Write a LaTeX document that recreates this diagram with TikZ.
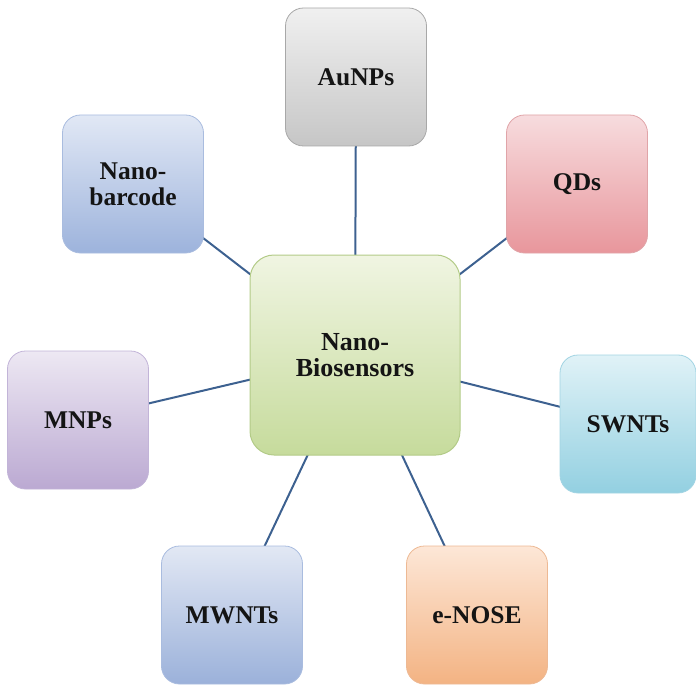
\documentclass[tikz,border=0pt]{standalone}
\usepackage{fontspec}
\setmainfont{Liberation Serif}
\usetikzlibrary{backgrounds}

% palette: top / bottom shades and rim of each box
\definecolor{goldT}{HTML}{F0F0F0}\definecolor{goldB}{HTML}{C6C6C6}\definecolor{goldD}{HTML}{A8A8A8}
\definecolor{qdT}{HTML}{F7DCDE}\definecolor{qdB}{HTML}{E8969C}\definecolor{qdD}{HTML}{E0A4A8}
\definecolor{barT}{HTML}{E1E8F5}\definecolor{barB}{HTML}{9DB3DC}\definecolor{barD}{HTML}{A9BCDF}
\definecolor{bioT}{HTML}{F0F5E2}\definecolor{bioB}{HTML}{C6DB9C}\definecolor{bioD}{HTML}{B3CB88}
\definecolor{mnpT}{HTML}{EDE8F3}\definecolor{mnpB}{HTML}{BBA9D2}\definecolor{mnpD}{HTML}{C2B4D8}
\definecolor{swT}{HTML}{E0F2F7}\definecolor{swB}{HTML}{93D0E1}\definecolor{swD}{HTML}{A2D4E3}
\definecolor{mwT}{HTML}{E2E8F4}\definecolor{mwB}{HTML}{9BB1DA}\definecolor{mwD}{HTML}{A9BCDF}
\definecolor{noseT}{HTML}{FDE7D7}\definecolor{noseB}{HTML}{F3B383}\definecolor{noseD}{HTML}{EDB994}
\definecolor{linkC}{HTML}{3D6190}

\tikzset{
  topic/.style n args={3}{rectangle, rounded corners=18pt, top color=#1, bottom color=#2,
    draw=#3, line width=0.8pt, minimum width=141pt, minimum height=138pt,
    align=center, font=\fontsize{25.5}{26}\selectfont\bfseries, text=black!92},
  hub/.style={rectangle, rounded corners=24pt, top color=bioT, bottom color=bioB,
    draw=bioD, line width=1pt, minimum width=210pt, minimum height=200pt,
    align=center, font=\fontsize{26}{26.5}\selectfont\bfseries, text=black!92},
  link/.style={draw=linkC, line width=2pt}
}

\begin{document}
\begin{tikzpicture}[x=1pt,y=-1pt]
  \useasboundingbox (0,0) rectangle (696,687);

  \node[hub] (bio) at (355,355) {Nano-\\Biosensors};

  \node[topic={goldT}{goldB}{goldD}] (au) at (356,77) {AuNPs};
  \node[topic={qdT}{qdB}{qdD}] (qd) at (577,184) {QDs};
  \node[topic={barT}{barB}{barD}] (bar) at (133,184) {Nano-\\barcode};
  \node[topic={mnpT}{mnpB}{mnpD}] (mnp) at (78,420) {MNPs};
  \node[topic={swT}{swB}{swD}, minimum width=136pt] (sw) at (628,424) {SWNTs};
  \node[topic={mwT}{mwB}{mwD}] (mw) at (232,615) {MWNTs};
  \node[topic={noseT}{noseB}{noseD}] (nose) at (477,615) {e-NOSE};

  % spokes run centre to centre, underneath the boxes
  \begin{scope}[on background layer]
    \foreach \t in {au,qd,bar,mnp,sw,mw,nose}
      \draw[link] (bio.center) -- (\t.center);
  \end{scope}
\end{tikzpicture}
\end{document}
